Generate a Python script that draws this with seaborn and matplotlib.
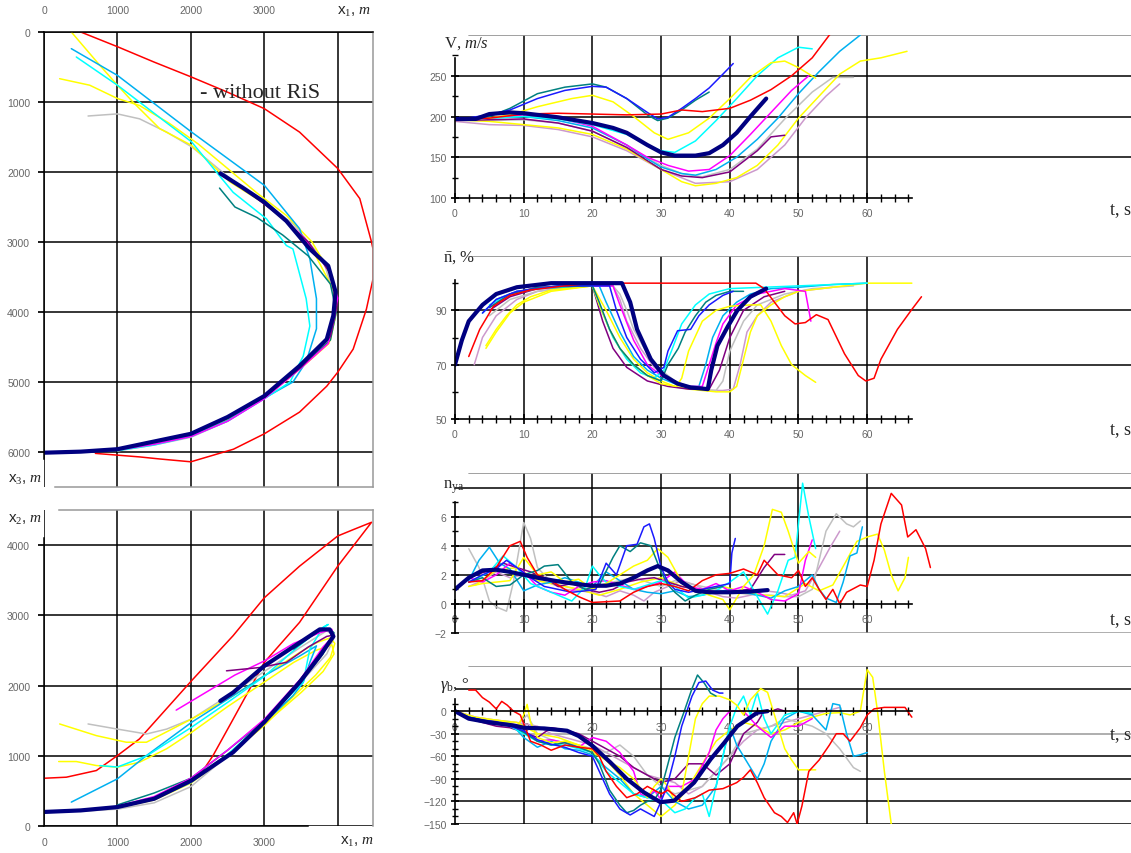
import matplotlib
matplotlib.use('Agg')
import matplotlib.pyplot as plt
import seaborn as sns
import numpy as np

sns.set_theme(style='white')
plt.rcParams['font.family'] = ['Liberation Sans', 'DejaVu Sans']
plt.rcParams['mathtext.fontset'] = 'custom'
plt.rcParams['mathtext.rm'] = 'Liberation Serif'
plt.rcParams['mathtext.it'] = 'Liberation Serif:italic'
plt.rcParams['mathtext.bf'] = 'Liberation Serif:bold'

RED = '#ff0000'; YEL = '#ffff00'; CYAN = '#00ffff'; SKY = '#00b0f0'
BLUE = '#1a1aff'; TEAL = '#008080'; MAG = '#ff00ff'; GRAY = '#c0c0c0'
PURP = '#800080'; PLUM = '#cc99cc'; NAVY = '#000080'

# ---- x1 / x3 trajectories (top left) ----
xz_red_x1 = [500, 1000, 1500, 2000, 2500, 3000, 3480, 4000, 4300, 4460, 4480, 4480, 4390, 4210, 4000, 3850, 3480, 3000, 2580, 2000, 1580, 1300, 700]
xz_red_x3 = [0, 210, 430, 640, 860, 1095, 1430, 1950, 2380, 3000, 3100, 3530, 3960, 4530, 4860, 5060, 5430, 5740, 5960, 6140, 6100, 6070, 6020]
xz_navy_x1 = [2400, 2700, 3000, 3300, 3620, 3870, 3970, 3940, 3850, 3480, 3000, 2500, 2000, 1500, 1000, 500, 0]
xz_navy_x3 = [2020, 2220, 2430, 2700, 3100, 3340, 3710, 4050, 4390, 4770, 5200, 5500, 5740, 5850, 5960, 5995, 6010]
xz_yel1_x1 = [372, 760, 1000, 1210, 1575, 2010, 2530, 3000, 3400, 3700, 3950, 3960, 3880, 3500, 3000, 2500, 2000, 1500, 1000]
xz_yel1_x3 = [0, 476, 760, 1000, 1380, 1620, 2140, 2450, 2800, 3200, 3700, 4100, 4450, 4800, 5230, 5540, 5770, 5890, 5975]
xz_yel2_x1 = [213, 622, 1000, 1300, 1700, 2100, 2500, 2900, 3300, 3650, 3930, 3980, 3900, 3520, 3000, 2500, 2000, 1500, 1000]
xz_yel2_x3 = [667, 760, 950, 1050, 1300, 1600, 1950, 2300, 2620, 3000, 3500, 4000, 4400, 4780, 5220, 5530, 5760, 5890, 5970]
xz_cyan_x1 = [440, 1000, 2010, 2575, 3030, 3300, 3390, 3570, 3620, 3530, 3350, 3000, 2500, 2000, 1500, 1000]
xz_cyan_x3 = [357, 760, 1570, 2290, 2670, 3050, 3100, 3810, 4200, 4630, 5000, 5240, 5560, 5780, 5900, 5980]
xz_sky_x1 = [372, 1000, 2010, 3000, 3480, 3620, 3710, 3710, 3570, 3390, 3000, 2500, 2000, 1500, 1000, 500]
xz_sky_x3 = [238, 620, 1430, 2190, 2810, 3240, 3810, 4240, 4710, 5000, 5230, 5550, 5770, 5890, 5975, 6000]
xz_gray_x1 = [600, 1000, 1300, 1670, 2010, 2210, 2600, 3000, 3400, 3800, 3960, 3900, 3500, 3000, 2500, 2000, 1500, 1000]
xz_gray_x3 = [1200, 1170, 1240, 1430, 1640, 1810, 2150, 2420, 2750, 3250, 3800, 4300, 4790, 5230, 5560, 5790, 5900, 5985]
xz_teal_x1 = [2390, 2600, 2900, 3250, 3600, 3900, 3980, 3900, 3500, 3000, 2500, 2000]
xz_teal_x3 = [2230, 2500, 2650, 2900, 3200, 3600, 4000, 4400, 4780, 5210, 5520, 5750]
xz_mag_x1 = [2500, 2800, 3200, 3550, 3880, 4000, 3950, 3870, 3500, 3000, 2500, 2000, 1500, 1000, 500]
xz_mag_x3 = [2100, 2300, 2600, 2950, 3400, 3800, 4100, 4450, 4800, 5240, 5560, 5780, 5890, 5970, 6000]
xz_purp_x1 = [2450, 2800, 3200, 3600, 3900, 3990, 3900, 3500, 3000]
xz_purp_x3 = [2050, 2300, 2620, 3000, 3450, 3900, 4350, 4790, 5220]

# ---- x1 / x2 trajectories (bottom left) ----
xy_red_x1 = [0, 304, 713, 1000, 1300, 2010, 2575, 3000, 3480, 4000, 4210, 4460, 4000, 3480, 3000, 2575, 2300, 2120, 2000, 1500, 1000, 500, 0]
xy_red_x2 = [680, 695, 790, 1003, 1240, 2070, 2710, 3250, 3700, 4130, 4220, 4325, 3700, 2900, 2330, 1520, 1000, 720, 620, 400, 270, 215, 200]
xy_navy_x1 = [0, 500, 1000, 1500, 2010, 2575, 3000, 3480, 3755, 3940, 3890, 3755, 3480, 3000, 2575, 2400]
xy_navy_x2 = [200, 222, 270, 388, 650, 1050, 1480, 2045, 2420, 2700, 2800, 2800, 2610, 2280, 1900, 1780]
xy_yel1_x1 = [213, 713, 1120, 1395, 2010, 2575, 3000, 3480, 3710, 3900, 3960, 3900, 3700, 3400, 3000, 2500, 2000, 1500, 1000, 500, 0]
xy_yel1_x2 = [1453, 1287, 1193, 1193, 1524, 1855, 2140, 2470, 2610, 2680, 2600, 2400, 2150, 1850, 1430, 1000, 610, 370, 260, 215, 200]
xy_yel2_x1 = [200, 440, 713, 1000, 1300, 1670, 2010, 2500, 3000, 3400, 3700, 3920, 3950, 3800, 3500, 3000, 2500, 2000, 1500, 1000, 500]
xy_yel2_x2 = [918, 918, 861, 838, 908, 1100, 1334, 1700, 2050, 2330, 2500, 2580, 2450, 2200, 1900, 1450, 1020, 640, 390, 265, 215]
xy_gray_x1 = [600, 1000, 1395, 1670, 2010, 2500, 3000, 3500, 3850, 3960, 3850, 3500, 3000, 2500, 2000, 1500, 1000, 500]
xy_gray_x2 = [1453, 1380, 1310, 1380, 1524, 1850, 2200, 2550, 2780, 2700, 2450, 2050, 1500, 1000, 560, 330, 240, 210]
xy_sky_x1 = [372, 1000, 1395, 2010, 2575, 3000, 3480, 3710, 3620, 3530, 3390, 3000, 2500, 2000, 1500, 1000]
xy_sky_x2 = [340, 672, 1003, 1477, 1855, 2140, 2420, 2565, 2330, 2045, 1855, 1470, 1000, 620, 380, 260]
xy_cyan_x1 = [760, 1000, 1400, 2000, 2500, 3000, 3400, 3700, 3870, 3800, 3620, 3530, 3000, 2500, 2000]
xy_cyan_x2 = [860, 840, 1000, 1400, 1760, 2130, 2500, 2760, 2870, 2830, 2520, 2050, 1490, 1020, 640]
xy_teal_x1 = [1000, 1500, 2000, 2500, 3000, 3500, 3800, 3950, 3900, 3700, 3400]
xy_teal_x2 = [300, 470, 680, 1080, 1500, 2060, 2450, 2750, 2800, 2750, 2520]
xy_mag_x1 = [1800, 2200, 2600, 3000, 3400, 3750, 3920, 3940, 3800, 3500, 3000, 2500, 2000, 1500, 1000]
xy_mag_x2 = [1650, 1900, 2150, 2350, 2600, 2750, 2800, 2700, 2550, 2100, 1520, 1080, 680, 420, 280]
xy_purp_x1 = [2485, 2940, 3300, 3600, 3850, 3950, 3900, 3500, 3000]
xy_purp_x2 = [2210, 2257, 2330, 2550, 2700, 2720, 2650, 2100, 1480]

# ---- V, m/s ----
v_t_navy = [0, 3, 5, 8, 10, 15, 20, 23, 25, 28, 30, 32, 35, 37, 39, 41, 43, 45.3]
v_navy = [197, 197, 203, 205, 204, 199, 192, 186, 180, 165, 156, 152, 152, 155, 165, 180, 200, 222]
v_t_red = [0, 5, 10, 15, 20, 25, 30, 33, 36, 40, 43, 46, 49, 52, 54.5, 56]
v_red = [196, 198, 203, 204, 203, 202, 203, 208, 206, 210, 220, 233, 250, 272, 300, 312]
v_t_teal = [0, 5, 8, 12, 16, 20, 22, 25, 28, 29.5, 31, 33, 35, 37]
v_teal = [196, 200, 210, 228, 236, 240, 236, 222, 202, 195, 198, 208, 220, 230]
v_t_blue = [0, 5, 8, 12, 16, 20, 22, 25, 28, 29.5, 31, 33, 35, 37, 39, 40.5]
v_blue = [196, 202, 208, 222, 232, 237, 236, 222, 205, 197, 199, 210, 222, 235, 252, 265]
v_t_yel1 = [0, 5, 8, 12, 17, 20, 23, 26, 29, 31, 34, 37, 40, 43, 46, 48, 50, 52.5]
v_yel1 = [197, 198, 202, 212, 222, 226, 218, 200, 180, 172, 180, 198, 222, 248, 266, 268, 260, 247]
v_t_cyan = [0, 5, 10, 15, 20, 25, 28, 30, 32, 35, 38, 41, 44, 47, 50, 52]
v_cyan = [196, 198, 200, 197, 190, 178, 165, 158, 156, 170, 195, 222, 250, 272, 285, 283]
v_t_sky = [0, 5, 10, 15, 20, 25, 28, 30, 33, 35, 38, 41, 44, 47, 50, 53, 56, 59]
v_sky = [196, 198, 200, 195, 186, 165, 148, 138, 130, 128, 135, 150, 172, 198, 228, 255, 280, 300]
v_t_mag = [0, 5, 10, 15, 20, 25, 28, 31, 34, 37, 40, 43, 46, 49, 51.5]
v_mag = [196, 198, 202, 198, 188, 165, 150, 140, 133, 135, 152, 178, 205, 232, 250]
v_t_gray = [0, 5, 10, 15, 20, 25, 30, 33, 36, 40, 44, 48, 52, 55, 58]
v_gray = [195, 195, 196, 192, 182, 162, 140, 130, 126, 135, 160, 197, 230, 248, 248]
v_t_purp = [0, 5, 10, 15, 20, 25, 30, 33, 36, 40, 44, 46, 48]
v_purp = [195, 196, 197, 192, 182, 162, 135, 127, 125, 132, 158, 175, 177]
v_t_yel2 = [0, 5, 10, 15, 20, 25, 30, 33, 35, 38, 41, 44, 47, 50, 53, 56, 59, 62, 65.8]
v_yel2 = [196, 194, 190, 186, 178, 160, 135, 120, 115, 118, 125, 140, 165, 198, 225, 252, 268, 272, 280]
v_t_plum = [0, 5, 10, 15, 20, 25, 30, 35, 40, 44, 48, 51, 54, 56]
v_plum = [194, 190, 189, 184, 175, 158, 135, 118, 120, 135, 165, 198, 225, 240]

# ---- n bar, % ----
n_t_navy = [0, 1, 2, 3, 4, 6, 9, 14, 24.3, 25.5, 26.5, 28.5, 30.4, 32.4, 34.3, 36.8, 37.3, 38.2, 39.7, 41.1, 43, 45.3]
n_navy = [70, 79, 86, 89, 92, 96, 98.5, 100, 100, 93, 83, 72, 66, 63, 61.6, 61, 68, 77, 84, 90, 95, 98]
n_t_red = [2, 3.6, 5.6, 8, 11, 16, 20, 43.8, 45, 46.5, 48, 49.5, 51, 52.6, 54.3, 56.7, 58.7, 59.8, 61, 62, 64.4, 66.4, 67.9]
n_red = [73, 83, 91.5, 95.5, 97.5, 99, 100, 100, 98, 93, 88, 85, 85.5, 88.4, 86.6, 74, 66, 64, 65, 72, 83, 90, 95]
n_t_yel1 = [4.5, 6, 7.5, 9, 11, 14, 20, 21, 22.5, 24, 26, 28, 30, 32.2, 33, 34, 36, 38, 40, 43, 44.5, 46, 47.5, 49, 51, 52.5]
n_yel1 = [77, 83, 88, 92, 95, 97.5, 99, 92, 83, 76, 70, 66, 63, 62, 65, 75, 86, 90, 91.5, 92, 92, 86, 77, 70, 66, 63.5]
n_t_yel2 = [4.5, 6, 8, 10, 14, 20, 22, 24, 26, 28, 30, 32, 34, 36, 38, 40, 41, 42, 43, 44, 46, 48, 50, 55, 60, 66.5]
n_yel2 = [76, 82, 89, 93, 97, 99, 90, 80, 72, 67, 64, 62, 61, 60.5, 60, 60, 62, 72, 82, 88, 92, 95, 97, 98.5, 100, 100]
n_t_teal = [5, 8, 12, 20, 21, 22.5, 24, 26, 28, 30, 31, 32.5, 33.5, 35, 36.5, 38, 40, 42]
n_teal = [91, 96, 98.5, 99, 93, 83, 76, 70, 66, 64, 70, 76, 82, 88, 93, 95.5, 97, 97]
n_t_blue = [4, 6, 9, 15, 22.5, 23.5, 25, 27, 29, 30.4, 31, 32.4, 34.3, 35.5, 37, 39, 40.5]
n_blue = [89, 94, 97, 99, 99, 90, 80, 72, 67, 69, 75, 82.5, 83, 88, 92, 95.5, 97]
n_t_cyan = [5, 8, 12, 20, 21, 23, 25, 27, 29, 30.4, 31.5, 33, 35, 37, 40, 45, 50, 55, 60]
n_cyan = [92, 96, 98, 99, 92, 80, 72, 67, 65, 68, 75, 85, 92, 96, 98, 98.5, 99, 99.5, 100]
n_t_sky = [4, 6, 9, 15, 21, 22, 24, 26, 28, 30, 32, 34, 35.5, 36.5, 37.5, 39, 41, 43, 46, 50, 55, 60]
n_sky = [89, 94, 97, 99, 99, 93, 82, 73, 68, 65, 63, 62, 62, 70, 80, 88, 93, 96, 98, 98.5, 99.5, 100]
n_t_mag = [5, 8, 12, 20, 23, 24, 26, 28, 30, 32, 34, 36, 37, 38, 39, 41, 44, 48, 51, 51.8]
n_mag = [91, 96, 98.5, 99, 99, 92, 79, 70, 66, 63.5, 62, 62, 70, 78, 85, 92, 96, 98, 97, 86]
n_t_gray = [5, 8, 12, 20, 23, 24, 25, 26, 28, 30, 32, 34, 36, 38, 39, 40, 42, 44, 48, 52, 58]
n_gray = [88, 94, 97, 99, 99, 96, 90, 83, 74, 68, 64, 62, 61, 60.5, 64, 75, 86, 92, 96, 98, 99]
n_t_plum = [2.8, 4, 6, 9, 12, 16, 20, 23, 24, 25, 27, 29, 31, 33, 35, 37, 39, 40.5, 41.5, 42.5, 44, 46, 50, 55]
n_plum = [70, 80, 88, 94, 97, 98.5, 99, 99, 94, 86, 76, 69, 65, 62.5, 61, 60.5, 60.5, 61, 70, 82, 88, 93, 97, 98.5]
n_t_purp = [5, 8, 12, 20, 21.5, 23, 25, 28, 31, 34, 37, 38.5, 40, 42, 45, 48]
n_purp = [90, 95, 98, 99, 86, 76, 69, 64, 62, 61, 61, 68, 80, 90, 95, 97]

# ---- n_ya ----
a_t_navy = [0, 2, 4, 6, 8, 10, 12, 15, 18, 20, 22, 24, 26, 28, 29.5, 31, 33, 35, 37, 40, 43, 45.5]
a_navy = [1.0, 1.8, 2.3, 2.35, 2.2, 2.0, 1.8, 1.55, 1.35, 1.25, 1.25, 1.4, 1.8, 2.3, 2.6, 2.3, 1.5, 0.9, 0.8, 0.8, 0.85, 0.95]
a_t_red = [2, 4, 6, 8, 9.5, 10.5, 12, 14, 16, 18, 20, 22, 24, 26, 28, 30, 32, 34, 36, 38, 40, 42, 44, 45, 47, 49, 50, 51, 52, 53, 54, 55, 56, 57, 59, 60, 61, 62, 63.5, 65, 65.9, 67.1, 68.5, 69.2]
a_red = [1.5, 1.6, 2.5, 4.0, 4.3, 3.2, 2.0, 1.6, 1.0, 0.5, 0.1, 0.15, 0.2, 0.8, 1.2, 1.4, 1.2, 0.9, 1.6, 2.0, 2.1, 2.4, 2.0, 3.0, 2.0, 1.8, 2.3, 1.2, 1.8, 1.0, 0.3, 1.0, 0.0, 0.8, 1.3, 1.2, 3.0, 5.5, 7.6, 6.8, 4.6, 5.1, 3.8, 2.5]
a_t_gray = [2, 3.5, 5, 6, 7.5, 8.5, 10, 11, 12, 14, 16, 18, 20, 22, 24, 26, 28, 30, 32, 34, 36, 38, 40, 42, 44, 46, 48, 50, 52, 53, 54, 55.5, 57, 58, 59]
a_gray = [3.8, 2.5, 0.2, -0.2, -0.5, 1.5, 5.6, 4.5, 2.5, 1.5, 1.2, 1.0, 1.1, 1.4, 1.6, 1.8, 1.5, 1.2, 1.6, 1.4, 1.2, 1.0, 0.8, 0.7, 0.6, 0.6, 0.5, 0.5, 1.0, 3.0, 5.0, 6.2, 5.5, 5.3, 5.7]
a_t_sky = [2, 3.5, 5, 6.5, 8, 10, 12, 14, 16, 18, 20, 22, 24, 26, 28, 30, 32, 34, 36, 38, 40, 42, 44, 46, 48, 50, 52, 53, 54, 55.5, 56.5, 57.5, 58.5, 59.3]
a_sky = [1.6, 3.0, 3.9, 2.8, 2.4, 0.9, 1.3, 1.5, 1.8, 1.5, 1.2, 2.2, 1.6, 1.0, 0.8, 0.7, 0.9, 0.5, 0.6, 0.8, 1.0, 0.8, 0.6, 0.4, 0.9, 1.2, 2.0, 1.0, 0.4, 0.1, 1.5, 3.3, 3.5, 5.3]
a_t_cyan = [3, 5, 7, 9, 11, 13, 15, 17, 19, 20, 21, 22, 24, 26, 28, 30, 32, 34, 36, 38, 40, 42, 44, 45.5, 47, 48.5, 49.5, 50.6, 51.5, 52.5]
a_cyan = [1.7, 2.2, 3.3, 2.5, 1.4, 1.0, 0.6, 0.2, 1.2, 2.6, 2.0, 1.5, 1.2, 1.0, 1.3, 1.6, 1.2, 0.4, 0.6, 0.9, 1.5, 2.2, 0.5, -0.7, 0.9, 3.0, 3.2, 8.3, 6.0, 3.8]
a_t_yel1 = [2, 4, 6, 8, 10, 12, 14, 16, 18, 20, 22, 24, 26, 28, 29.5, 31, 33, 35, 37, 39, 40, 42, 43.5, 45, 46.2, 47.5, 48.5, 50, 51.5, 52.5]
a_yel1 = [1.2, 1.4, 1.5, 1.6, 3.2, 2.0, 2.2, 1.5, 1.7, 1.0, 1.4, 2.0, 2.6, 3.0, 3.8, 3.2, 1.5, 1.0, 0.6, 0.3, -0.4, 1.2, 2.0, 4.0, 6.5, 6.3, 5.0, 2.8, 3.6, 3.2]
a_t_yel2 = [3, 6, 9, 12, 15, 18, 21, 24, 27, 30, 33, 36, 39, 42, 45, 48, 51, 53, 55, 57, 58.5, 60, 61.5, 62.5, 63.5, 64.5, 65.5, 66]
a_yel2 = [1.3, 2.3, 2.5, 1.6, 1.3, 1.0, 0.6, 1.0, 1.5, 1.8, 1.2, 1.0, 1.2, 0.8, 0.6, 0.5, 1.4, 0.9, 1.3, 3.0, 4.3, 4.6, 4.8, 3.7, 2.0, 0.9, 1.8, 3.2]
a_t_teal = [2, 4, 6, 8, 10, 12, 13, 15, 17, 19, 21, 23, 24, 25.5, 27, 28.5, 30, 31, 32, 33.5, 35, 37, 39]
a_teal = [1.5, 1.8, 1.2, 1.3, 2.0, 2.3, 2.6, 2.7, 1.5, 1.0, 1.3, 3.2, 4.0, 3.6, 4.2, 4.0, 2.2, 1.3, 0.8, 0.2, 0.6, 1.0, 1.2]
a_t_blue = [2, 4, 6, 7.5, 9, 11, 13, 15, 17, 19, 20.5, 22, 23.5, 25, 26.5, 27.5, 28.3, 29, 30, 31, 32, 34, 36, 38, 40, 40.3, 40.8]
a_blue = [1.5, 2.0, 2.4, 3.0, 2.5, 1.8, 1.2, 1.0, 0.8, 0.9, 1.0, 2.8, 2.0, 4.0, 4.1, 5.3, 5.5, 4.5, 2.5, 1.5, 1.0, 0.8, 1.0, 1.2, 1.4, 3.5, 4.5]
a_t_mag = [2, 4, 6, 8, 10, 12, 14, 16, 18, 20, 22, 24, 26, 28, 30, 32, 34, 36, 38, 40, 42, 44, 46, 48, 50, 51, 52]
a_mag = [1.8, 1.5, 2.0, 2.8, 2.2, 1.2, 0.8, 0.6, 1.2, 1.5, 1.6, 1.3, 1.0, 1.2, 1.5, 2.2, 1.2, 1.0, 1.4, 0.9, 1.2, 0.8, 0.3, 0.2, 0.7, 3.0, 4.4]
a_t_purp = [3, 5, 7, 9, 11, 13, 15, 17, 19, 21, 23, 25, 27, 29, 31, 33, 35, 37, 39, 41, 43, 45, 46.5, 48]
a_purp = [2.0, 2.3, 2.8, 2.5, 2.2, 1.8, 1.2, 1.4, 1.0, 0.8, 1.0, 1.5, 1.7, 1.8, 1.5, 1.2, 1.0, 0.9, 0.8, 0.9, 1.0, 2.5, 3.4, 3.4]
a_t_plum = [2, 4, 6, 8, 10, 12, 14, 16, 18, 20, 22, 24, 26, 27.5, 29, 31, 33, 35, 37, 39, 41, 43, 45, 47, 49, 51, 53, 54.5, 56]
a_plum = [1.2, 1.6, 2.2, 1.8, 2.0, 1.6, 1.4, 1.0, 0.9, 0.8, 0.5, 0.9, 0.6, 0.2, 0.8, 1.2, 1.6, 1.3, 0.8, 0.5, 0.4, 0.6, 0.9, 0.8, 0.6, 0.9, 2.5, 3.8, 5.0]

# ---- gamma_b, deg ----
g_t_navy = [0, 2, 5, 8.5, 10, 13, 16.3, 18, 20, 22.6, 25, 27.5, 29.9, 31.9, 34.8, 37.2, 39.2, 41.1, 44, 45.5]
g_navy = [0, -10, -15, -19, -22, -23, -26, -33, -46, -68, -90, -108, -121, -119, -95, -64, -42, -20, -2, 0]
g_t_red = [2, 3, 4, 5, 6, 6.8, 7.6, 8.5, 9.5, 11, 12.5, 14, 16, 18, 20, 21, 22, 23.5, 25, 26.5, 28, 29, 30, 31, 33, 35, 37, 39, 41, 42, 43, 44, 45, 46.5, 47.5, 48.4, 49.3, 49.8, 50.5, 51.5, 53, 54.5, 55.5, 56.5, 57.5, 59, 60, 61, 62.5, 64, 65.5, 66.5]
g_red = [28, 28, 18, 12, 3, 13, 8, 0, -5, -40, -45, -52, -45, -48, -50, -60, -80, -100, -115, -110, -100, -105, -110, -105, -120, -115, -105, -103, -95, -88, -78, -95, -115, -135, -140, -148, -135, -150, -126, -80, -65, -45, -30, -30, -40, -22, -5, 3, 5, 5, 5, -8]
g_t_teal = [0, 2, 4, 6, 8, 10, 12, 14, 16, 18, 20, 21, 22.5, 24, 25, 26, 27, 28, 29, 30, 31, 32, 33.3, 34.5, 35.3, 36.3, 37.2, 38]
g_teal = [0, -8, -12, -15, -18, -28, -40, -45, -42, -48, -55, -70, -105, -125, -135, -132, -125, -120, -118, -104, -70, -35, -2, 30, 48, 37, 24, 20]
g_t_blue = [0, 2, 4, 6, 8, 10, 12, 14, 16, 18, 20, 21, 22.5, 24, 25.5, 27, 28, 29, 30, 31, 32, 33, 34.5, 35.5, 36.5, 37.5, 38.5, 39]
g_blue = [0, -8, -12, -14, -20, -26, -38, -44, -48, -55, -60, -80, -110, -130, -138, -130, -135, -140, -120, -95, -60, -20, 20, 38, 40, 28, 24, 24]
g_t_yel1 = [0, 2, 4, 6, 8, 9, 10, 10.5, 11, 12, 14, 16, 18, 20, 22, 24, 26, 28, 29, 30, 31, 32, 33, 34, 35, 36, 37, 38.5, 40, 41, 42, 43, 44.5, 45.5, 46, 47, 48, 49, 50, 51, 52.5]
g_yel1 = [0, -10, -12, -12, -15, -22, -5, 9, -15, -35, -42, -40, -45, -55, -65, -75, -90, -115, -100, -90, -100, -120, -110, -60, -10, 10, 20, 20, 15, 8, -5, 15, 30, 25, 10, -20, -50, -65, -78, -78, -78]
g_t_yel2 = [0, 3, 6, 9, 12, 15, 18, 20, 22, 24, 26, 28, 30, 32, 34, 36, 38, 40, 42, 44, 46, 48, 50, 52, 54, 56, 57.5, 59, 60, 60.8, 61.5, 62.5, 63.5]
g_yel2 = [0, -8, -12, -15, -30, -35, -45, -52, -65, -85, -110, -125, -140, -125, -100, -70, -40, -25, -15, -20, -30, -25, -15, -8, -3, -2, -5, 0, 55, 45, 0, -80, -150]
g_t_cyan = [0, 2, 4, 6, 8, 10, 12, 14, 16, 18, 20, 22, 24, 26, 28, 30, 32, 33.5, 35, 36, 37, 38, 39, 40, 41, 42, 43, 44, 45, 46, 48, 50, 52]
g_cyan = [0, -8, -12, -15, -20, -30, -40, -45, -45, -50, -55, -80, -95, -110, -115, -118, -135, -130, -115, -110, -140, -100, -60, -20, 5, 20, -5, 25, -10, -30, -5, 0, -3]
g_t_sky = [0, 2, 4, 6, 8, 10, 12, 14, 16, 18, 20, 22, 24, 26, 28, 30, 32, 34, 36, 38, 40, 41, 42, 44, 45, 46, 48, 50, 52, 54, 55, 56, 57, 58, 59, 60]
g_sky = [0, -10, -14, -15, -15, -35, -48, -40, -50, -52, -58, -75, -90, -110, -115, -100, -120, -130, -125, -100, -20, -45, -60, -90, -70, -40, -10, 0, -5, -25, 10, 8, -30, -60, -58, -55]
g_t_mag = [0, 2, 4, 6, 8, 10, 12, 14, 16, 18, 20, 22, 24, 26, 27, 28, 29, 30, 31, 33, 35, 37, 38, 39, 40, 42, 44, 46, 48, 50, 52]
g_mag = [0, -10, -12, -15, -17, -28, -40, -38, -42, -48, -35, -40, -55, -80, -110, -115, -105, -118, -100, -100, -90, -55, -25, -10, 0, 0, -20, -35, -20, -20, -10]
g_t_gray = [0, 3, 6, 9, 10.5, 12, 14, 16, 18, 20, 22, 24, 26, 28, 30, 32, 34, 36, 38, 40, 42, 44, 46, 48, 50, 52, 54, 56, 58, 59]
g_gray = [0, -10, -15, -20, -5, -30, -38, -42, -45, -50, -55, -45, -60, -85, -100, -110, -105, -100, -80, -60, -30, -25, -20, -10, -15, -20, -30, -50, -75, -80]
g_t_purp = [0, 2, 4, 6, 8, 10, 12, 14, 16, 18, 20, 22, 24, 26, 28, 30, 32, 34, 36, 38, 40, 42, 44, 45, 46, 47, 48]
g_purp = [0, -10, -15, -20, -22, -28, -35, -22, -25, -30, -40, -50, -60, -75, -85, -95, -90, -70, -70, -85, -70, -30, -15, 0, 0, 3, 0]
g_t_plum = [0, 3, 6, 9, 12, 14, 16, 18, 20, 22, 24, 26, 28, 30, 32, 34, 36, 38, 40, 42, 44, 46, 48, 50, 52, 54, 56]
g_plum = [0, -8, -12, -15, -20, -30, -35, -40, -45, -55, -65, -75, -85, -90, -95, -110, -100, -80, -60, -40, -25, -20, -15, -10, -5, 0, 5]

W, H = 1131, 854
fig = plt.figure(figsize=(W / 100, H / 100), dpi=100)


def box(l, t, r, b):
    return fig.add_axes([l / W, 1 - b / H, (r - l) / W, (b - t) / H])


def curve(ax, xs, ys, col, lw=1.1):
    sns.lineplot(x=xs, y=ys, sort=False, estimator=None, color=col, lw=lw, ax=ax, legend=False)


TICK = dict(labelsize=7.5, labelcolor='#666666', colors='black')
SERIF = 'Liberation Serif'

# ---------------- top left: x1-x3 ----------------
ax = box(44, 33, 373, 488)
for xs, ys, c in [(xz_red_x1, xz_red_x3, RED), (xz_gray_x1, xz_gray_x3, GRAY),
                  (xz_yel1_x1, xz_yel1_x3, YEL), (xz_yel2_x1, xz_yel2_x3, YEL),
                  (xz_sky_x1, xz_sky_x3, SKY), (xz_cyan_x1, xz_cyan_x3, CYAN),
                  (xz_teal_x1, xz_teal_x3, TEAL), (xz_mag_x1, xz_mag_x3, MAG),
                  (xz_purp_x1, xz_purp_x3, PURP)]:
    curve(ax, xs, ys, c)
curve(ax, xz_navy_x1, xz_navy_x3, NAVY, lw=3)
ax.set_xlim(0, 4480)
ax.set_ylim(6500, 0)
ax.set_xticks([0, 1000, 2000, 3000])
ax.xaxis.set_minor_locator(matplotlib.ticker.FixedLocator([4000]))
ax.set_yticks([0, 1000, 2000, 3000, 4000, 5000, 6000])
ax.xaxis.tick_top()
ax.tick_params(axis='x', which='both', length=0, pad=12, **TICK)
ax.tick_params(axis='y', length=4, pad=6, left=True, **TICK)
ax.grid(True, which='both', color='black', lw=1.1)
ax.set_axisbelow(True)
ax.spines['top'].set_color('black')
ax.spines['left'].set_color('black')
ax.spines['left'].set_bounds(6100, 0)
ax.spines['right'].set_color('#999999')
ax.spines['bottom'].set_color('#999999')
ax.spines['bottom'].set_bounds(150, 4480)
for s in ax.spines.values():
    s.set_linewidth(1.1)
ax.set_xlabel('')
ax.set_ylabel('')
ax.text(2120, 870, '- without RiS', fontsize=16, family=SERIF, va='center')
fig.text(337 / W, 1 - 12 / H, r'x$_1$, $\mathit{m}$', fontsize=11, va='center')
fig.text(8 / W, 1 - 480 / H, r'x$_3$, $\mathit{m}$', fontsize=11, va='center')

# ---------------- bottom left: x1-x2 ----------------
ax = box(44, 511, 373, 827)
for xs, ys, c in [(xy_red_x1, xy_red_x2, RED), (xy_gray_x1, xy_gray_x2, GRAY),
                  (xy_yel1_x1, xy_yel1_x2, YEL), (xy_yel2_x1, xy_yel2_x2, YEL),
                  (xy_sky_x1, xy_sky_x2, SKY), (xy_cyan_x1, xy_cyan_x2, CYAN),
                  (xy_teal_x1, xy_teal_x2, TEAL), (xy_mag_x1, xy_mag_x2, MAG),
                  (xy_purp_x1, xy_purp_x2, PURP)]:
    curve(ax, xs, ys, c)
curve(ax, xy_navy_x1, xy_navy_x2, NAVY, lw=3)
ax.set_xlim(0, 4480)
ax.set_ylim(0, 4500)
ax.set_xticks([0, 1000, 2000, 3000])
ax.set_yticks([0, 1000, 2000, 3000, 4000])
ax.tick_params(axis='x', length=0, pad=8, **TICK)
ax.tick_params(axis='y', length=4, pad=6, left=True, **TICK)
ax.xaxis.set_minor_locator(matplotlib.ticker.FixedLocator([4000]))
ax.grid(True, which='both', color='black', lw=1.1)
ax.set_axisbelow(True)
ax.spines['left'].set_color('black')
ax.spines['left'].set_bounds(0, 4100)
ax.spines['bottom'].set_color('black')
ax.spines['bottom'].set_bounds(0, 3600)
ax.spines['top'].set_color('#999999')
ax.spines['top'].set_bounds(200, 4480)
ax.spines['right'].set_color('#999999')
for s in ax.spines.values():
    s.set_linewidth(1.1)
ax.set_xlabel('')
ax.set_ylabel('')
fig.text(8 / W, 1 - 520 / H, r'x$_2$, $\mathit{m}$', fontsize=11, va='center')
fig.text(340 / W, 1 - 842 / H, r'x$_1$, $\mathit{m}$', fontsize=11, va='center')

# ---------------- right: time histories ----------------
TMAX = 98.4


def tpanel(ax, ylim, yticks, yminor, black, gray, top, spine_top, zero=None):
    ax.set_xlim(0, TMAX)
    ax.set_ylim(*ylim)
    for s in ax.spines.values():
        s.set_visible(False)
    ax.spines['left'].set_visible(True)
    ax.spines['left'].set_color('black')
    ax.spines['left'].set_linewidth(1.2)
    ax.spines['left'].set_bounds(ylim[0], spine_top)
    sp = ax.spines['bottom']
    sp.set_visible(True)
    sp.set_color('black')
    sp.set_linewidth(1.2)
    if zero is not None:
        sp.set_position(('data', zero))
    sp.set_bounds(0, 66.5)
    ax.set_xticks(range(0, 61, 10))
    ax.set_xticks(np.arange(0, 67, 2), minor=True)
    ax.set_yticks(yticks)
    ax.set_yticks(yminor, minor=True)
    ax.tick_params(axis='x', which='major', direction='inout', length=7, pad=4, bottom=True, **TICK)
    ax.tick_params(axis='x', which='minor', direction='inout', length=6, bottom=True, colors='black')
    ax.tick_params(axis='y', which='major', direction='inout', length=6, pad=3, left=True, **TICK)
    ax.tick_params(axis='y', which='minor', direction='inout', length=5, left=True, colors='black')
    ax.grid(False)
    for t in range(10, 61, 10):
        ax.axvline(t, color='black', lw=1.1, zorder=0.5)
    for h in black:
        ax.axhline(h, color='black', lw=1.1, zorder=0.5)
    for h in gray:
        ax.axhline(h, color='#999999', lw=1.1, zorder=0.5)
    ax.axhline(top, xmin=0.02, color='#999999', lw=1.3, zorder=0.5)
    ax.set_xlabel('')
    ax.set_ylabel('')


def series(ax, sets, navy):
    for ts, ys, c in sets:
        curve(ax, ts, ys, c)
    curve(ax, navy[0], navy[1], NAVY, lw=3)


ax = box(455, 36, 1131, 199)
series(ax, [(v_t_plum, v_plum, PLUM), (v_t_gray, v_gray, GRAY), (v_t_yel2, v_yel2, YEL),
            (v_t_purp, v_purp, PURP), (v_t_sky, v_sky, SKY), (v_t_mag, v_mag, MAG),
            (v_t_cyan, v_cyan, CYAN), (v_t_yel1, v_yel1, YEL), (v_t_teal, v_teal, TEAL),
            (v_t_blue, v_blue, BLUE), (v_t_red, v_red, RED)], (v_t_navy, v_navy))
tpanel(ax, (100, 300), [100, 150, 200, 250], [125, 175, 225, 275], [150, 200, 250], [], 300, 272)
fig.text(444 / W, 1 - 44 / H, r'V, $\mathit{m/s}$', fontsize=12, va='center', family=SERIF)
fig.text(1110 / W, 1 - 210 / H, 't, s', fontsize=13, va='center', family=SERIF)

ax = box(455, 257, 1131, 420)
series(ax, [(n_t_plum, n_plum, PLUM), (n_t_gray, n_gray, GRAY), (n_t_yel2, n_yel2, YEL),
            (n_t_purp, n_purp, PURP), (n_t_sky, n_sky, SKY), (n_t_mag, n_mag, MAG),
            (n_t_cyan, n_cyan, CYAN), (n_t_yel1, n_yel1, YEL), (n_t_teal, n_teal, TEAL),
            (n_t_blue, n_blue, BLUE), (n_t_red, n_red, RED)], (n_t_navy, n_navy))
tpanel(ax, (50, 110), [50, 70, 90], [60, 80, 100], [70, 90], [], 110, 101)
fig.text(443 / W, 1 - 258 / H, r'$\bar{\mathrm{n}}$, %', fontsize=12, va='center', family=SERIF)
fig.text(1110 / W, 1 - 430 / H, 't, s', fontsize=13, va='center', family=SERIF)

ax = box(455, 474, 1131, 634)
series(ax, [(a_t_plum, a_plum, PLUM), (a_t_gray, a_gray, GRAY), (a_t_yel2, a_yel2, YEL),
            (a_t_purp, a_purp, PURP), (a_t_sky, a_sky, SKY), (a_t_mag, a_mag, MAG),
            (a_t_cyan, a_cyan, CYAN), (a_t_yel1, a_yel1, YEL), (a_t_teal, a_teal, TEAL),
            (a_t_blue, a_blue, BLUE), (a_t_red, a_red, RED)], (a_t_navy, a_navy))
tpanel(ax, (-2, 9), [-2, 0, 2, 4, 6], [-1, 1, 3, 5, 7], [2, 4, 6, 8], [-2], 9, 7, zero=0)
fig.text(443 / W, 1 - 487 / H, r'n$_{\mathrm{ya}}$', fontsize=12, va='center', family=SERIF)
fig.text(1110 / W, 1 - 620 / H, 't, s', fontsize=13, va='center', family=SERIF)

ax = box(455, 667, 1131, 825)
series(ax, [(g_t_plum, g_plum, PLUM), (g_t_gray, g_gray, GRAY), (g_t_yel2, g_yel2, YEL),
            (g_t_purp, g_purp, PURP), (g_t_sky, g_sky, SKY), (g_t_mag, g_mag, MAG),
            (g_t_cyan, g_cyan, CYAN), (g_t_yel1, g_yel1, YEL), (g_t_teal, g_teal, TEAL),
            (g_t_blue, g_blue, BLUE), (g_t_red, g_red, RED)], (g_t_navy, g_navy))
tpanel(ax, (-150, 60), [0, -30, -60, -90, -120, -150], np.arange(-140, 15, 10), [30, -60, -90, -120, -150], [-30], 60, 16, zero=0)
fig.text(440 / W, 1 - 686 / H, r'$\gamma_{\mathrm{b}}$, °', fontsize=12, va='center', family=SERIF)
fig.text(1110 / W, 1 - 735 / H, 't, s', fontsize=13, va='center', family=SERIF)

fig.savefig('out.png', dpi=100)
